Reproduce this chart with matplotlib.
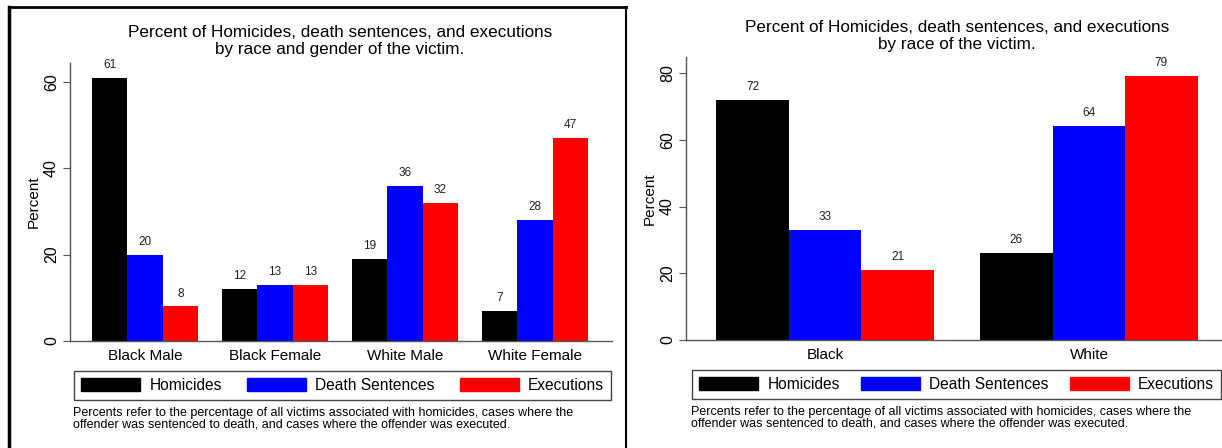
import matplotlib
matplotlib.use("Agg")
import matplotlib.pyplot as plt
from matplotlib.patches import Patch
from matplotlib.lines import Line2D
import numpy as np

plt.rcParams['font.family'] = ['Liberation Sans', 'DejaVu Sans']

# dane
grupy_lewe = ["Black Male", "Black Female", "White Male", "White Female"]
homicides_l = [61, 12, 19, 7]
death_l = [20, 13, 36, 28]
exec_l = [8, 13, 32, 47]

grupy_prawe = ["Black", "White"]
homicides_p = [72, 26]
death_p = [33, 64]
exec_p = [21, 79]

serie = ["Homicides", "Death Sentences", "Executions"]
kolory = ["black", "#0000ff", "#ff0000"]

tytul_l = "Percent of Homicides, death sentences, and executions\nby race and gender of the victim."
tytul_p = "Percent of Homicides, death sentences, and executions\nby race of the victim."
notka = ("Percents refer to the percentage of all victims associated with homicides, cases where the\n"
         "offender was sentenced to death, and cases where the offender was executed.")

W, H = 1222, 448
fig = plt.figure(figsize=(W / 100, H / 100), dpi=100)


def px(x0, y0, x1, y1):
    # piksele (od gory) -> [left, bottom, width, height] w ulamkach figury
    return [x0 / W, 1 - y1 / H, (x1 - x0) / W, (y1 - y0) / H]


def panel(rect, grupy, dane, szer, xlim, ylim, yticks):
    ax = fig.add_axes(rect)
    x = np.arange(len(grupy))
    for i, (wart, kol) in enumerate(zip(dane, kolory)):
        b = ax.bar(x + (i - 1) * szer, wart, szer, color=kol, label=serie[i])
        ax.bar_label(b, padding=5, fontsize=8.5, color="#222222")
    ax.set_xlim(*xlim)
    ax.set_ylim(*ylim)
    ax.set_xticks(x)
    ax.set_xticklabels(grupy, fontsize=11)
    ax.tick_params(axis="x", length=0, pad=6)
    ax.set_yticks(yticks)
    ax.tick_params(axis="y", labelrotation=90, labelsize=11.5, length=5,
                   color="#555555", pad=3)
    for lab in ax.get_yticklabels():
        lab.set_verticalalignment("center")
    ax.set_ylabel("Percent", fontsize=11, labelpad=2)
    for s in ["top", "right"]:
        ax.spines[s].set_visible(False)
    for s in ["left", "bottom"]:
        ax.spines[s].set_color("#555555")
        ax.spines[s].set_linewidth(1)
    return ax


ax1 = panel(px(70, 63, 612, 341), grupy_lewe, [homicides_l, death_l, exec_l],
            0.273, (-0.577, 3.592), (0, 64.4), [0, 20, 40, 60])
ax2 = panel(px(686, 57, 1228, 340), grupy_prawe, [homicides_p, death_p, exec_p],
            0.2746, (-0.527, 1.527), (0, 84.8), [0, 20, 40, 60, 80])

fig.text(340 / W, 1 - 41 / H, tytul_l, ha="center", va="center", fontsize=12.3,
         linespacing=1.15)
fig.text(957 / W, 1 - 36 / H, tytul_p, ha="center", va="center", fontsize=12.3,
         linespacing=1.15)

uchwyty = [Patch(facecolor=k, edgecolor=k) for k in kolory]
for (x0, x1, y0, y1) in [(74, 611, 371, 400), (692, 1221, 370, 399)]:
    leg = fig.legend(uchwyty, serie, ncol=3, mode="expand", loc="center",
                     bbox_to_anchor=px(x0, y0, x1, y1), bbox_transform=fig.transFigure,
                     borderaxespad=0, fontsize=11.2, handlelength=3.8, handleheight=0.95,
                     handletextpad=0.6, columnspacing=1.6, borderpad=0.45,
                     fancybox=False, edgecolor="#444444", framealpha=1)
    leg.get_frame().set_linewidth(1)

fig.text(73 / W, 1 - 418.5 / H, notka, ha="left", va="center", fontsize=9,
         linespacing=0.95)
fig.text(691 / W, 1 - 418 / H, notka, ha="left", va="center", fontsize=9,
         linespacing=0.95)

# ramki paneli
fig.add_artist(Line2D([9 / W, 9 / W], [0, 1 - 7 / H], transform=fig.transFigure,
                      color="black", lw=2.5))
fig.add_artist(Line2D([9 / W, 626 / W], [1 - 7 / H, 1 - 7 / H], transform=fig.transFigure,
                      color="black", lw=2))
fig.add_artist(Line2D([626 / W, 626 / W], [0, 1 - 7 / H], transform=fig.transFigure,
                      color="black", lw=1.5))

fig.savefig("out.png", dpi=100)
